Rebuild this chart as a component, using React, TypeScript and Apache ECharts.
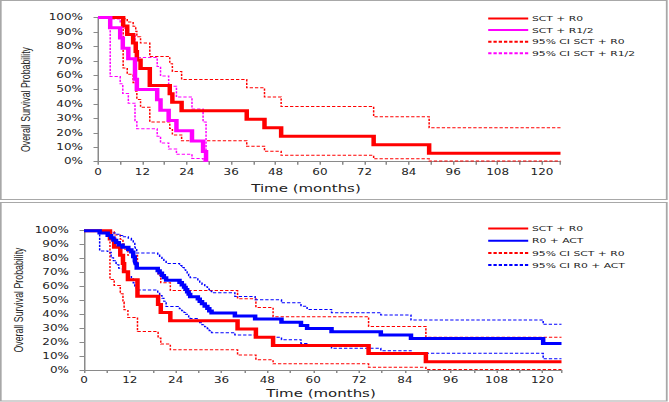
import React, { useEffect, useRef } from "react";
import * as echarts from "echarts";

// The reference picture is horizontally stretched (about 1.5x), so the chart is drawn
// at 669/1.5 px wide and stretched back with a CSS transform.
const K = 1.5;
const W = 669 / K;
const H = 402;

// ---- Top panel: SCT + R0 vs SCT + R1/2 (time in months, survival in %) ----
const sctR0: [number, number][] = [
  [0, 100], [6.8, 94.1], [7.9, 88.2], [9.5, 82.4], [10.2, 76.5], [10.5, 70.6], [11.5, 64.7],
  [14.0, 52.9], [19.4, 47.1], [20.1, 41.2], [22.6, 35.3], [40.2, 29.4], [45.0, 23.5],
  [49.5, 17.6], [74.5, 11.8], [89.5, 5.9], [125, 5.9],
];
const sctR0Upper: [number, number][] = [
  [0, 100], [6.8, 99.2], [7.9, 96.9], [9.5, 93.9], [10.2, 90.5], [10.5, 86.6], [11.5, 82.3],
  [14.0, 73.0], [19.4, 68.0], [20.1, 62.6], [22.6, 57.0], [40.2, 51.2], [45.0, 44.9],
  [49.5, 38.3], [74.5, 31.2], [89.5, 23.5], [125, 23.5],
];
const sctR0Lower: [number, number][] = [
  [0, 100], [6.8, 65.0], [7.9, 60.6], [9.5, 54.7], [10.2, 48.8], [10.5, 43.2], [11.5, 37.7],
  [14.0, 27.6], [19.4, 23.0], [20.1, 18.6], [22.6, 14.5], [40.2, 10.7], [45.0, 7.3],
  [49.5, 4.4], [74.5, 2.0], [89.5, 0.4], [125, 0.4],
];
const sctR12: [number, number][] = [
  [0, 100], [3.3, 92.9], [6.0, 85.7], [6.7, 78.6], [8.2, 71.4], [10.0, 57.1], [10.5, 50.0],
  [16.0, 42.9], [16.9, 35.7], [19.1, 28.6], [21.2, 21.4], [25.4, 14.3], [28.4, 7.1], [29.2, 0],
];
const sctR12Upper: [number, number][] = [
  [0, 100], [3.3, 99.0], [6.0, 96.2], [6.7, 92.5], [8.2, 88.2], [10.0, 78.0], [10.5, 72.2],
  [16.0, 66.0], [16.9, 59.4], [19.1, 52.4], [21.2, 44.8], [25.4, 36.6], [28.4, 27.5], [29.2, 0],
];
const sctR12Lower: [number, number][] = [
  [0, 100], [3.3, 59.1], [6.0, 54.0], [6.7, 47.3], [8.2, 40.6], [10.0, 28.4], [10.5, 22.9],
  [16.0, 17.7], [16.9, 13.0], [19.1, 8.8], [21.2, 5.2], [25.4, 2.3], [28.4, 0.5], [29.2, 0],
];

// ---- Bottom panel: R0 + ACT ----
const r0Act: [number, number][] = [
  [0, 100], [4.1, 98.3], [6.2, 96.6], [7.1, 94.9], [7.7, 93.2], [8.4, 91.5], [9.1, 89.8],
  [10.1, 88.1], [11.6, 86.4], [12.4, 84.7], [12.9, 81.3], [13.3, 78.0], [13.5, 76.3],
  [13.8, 73.0], [19.3, 71.3], [19.8, 69.6], [20.4, 67.9], [20.9, 66.2], [21.5, 64.5],
  [25.0, 62.8], [25.6, 61.1], [26.2, 59.4], [26.6, 57.7], [27.0, 56.0], [27.4, 54.3],
  [27.8, 52.6], [29.8, 50.9], [30.3, 49.2], [30.9, 47.5], [31.6, 45.8], [32.3, 44.1],
  [32.8, 42.4], [33.4, 40.9], [39.5, 38.8], [44.8, 36.6], [51.7, 34.3], [56.8, 32.0],
  [58.4, 29.8], [64.8, 27.5], [77.7, 25.1], [85.6, 22.7], [120.2, 19.1], [125, 19.1],
];
const r0ActUpper: [number, number][] = [
  [0, 100], [4.1, 100], [6.2, 99.6], [7.1, 99.0], [7.7, 98.3], [8.4, 97.5], [9.1, 96.6],
  [10.1, 95.6], [11.6, 94.5], [12.4, 93.2], [12.9, 91.0], [13.3, 88.6], [13.5, 87.3],
  [13.8, 84.0], [19.3, 82.5], [19.8, 81.0], [20.4, 79.5], [20.9, 78.0], [21.5, 76.5],
  [25.0, 75.0], [25.6, 73.5], [26.2, 72.0], [26.6, 70.5], [27.0, 69.0], [27.4, 67.6],
  [27.8, 66.2], [29.8, 64.6], [30.3, 63.0], [30.9, 61.4], [31.6, 59.8], [32.3, 58.2],
  [32.8, 56.8], [33.4, 55.5], [39.5, 52.8], [44.8, 50.4], [51.7, 48.2], [56.8, 45.8],
  [58.4, 43.5], [64.8, 41.1], [77.7, 39.5], [85.6, 35.9], [120.2, 32.8], [125, 32.8],
];
const r0ActLower: [number, number][] = [
  [0, 100], [4.1, 85.5], [6.2, 84.5], [7.1, 80.5], [7.7, 78.5], [8.4, 75.5], [9.1, 73.0],
  [10.1, 70.5], [11.6, 67.5], [12.4, 65.5], [12.9, 62.5], [13.3, 60.0], [13.5, 59.0],
  [13.8, 57.4], [19.3, 55.5], [19.8, 53.5], [20.4, 51.5], [20.9, 49.3], [21.5, 45.5],
  [25.0, 44.0], [25.6, 42.6], [26.2, 41.3], [26.6, 40.0], [27.0, 39.0], [27.4, 38.0],
  [27.8, 37.0], [29.8, 35.5], [30.3, 34.0], [30.9, 32.5], [31.6, 31.0], [32.3, 29.6],
  [32.8, 28.2], [33.4, 26.8], [39.5, 25.1], [44.8, 23.5], [51.7, 21.8], [56.8, 19.1],
  [58.4, 17.2], [64.8, 15.6], [77.7, 13.9], [85.6, 12.0], [120.2, 8.1], [125, 8.1],
];

const topLegend = ["SCT + R0", "SCT + R1/2", "95% CI SCT + R0", "95% CI SCT + R1/2"];
const bottomLegend = ["SCT + R0", "R0 + ACT", "95% CI SCT + R0", "95% CI R0 + ACT"];
const yTitle = "Overall Survival Probability";
const xTitle = "Time (months)";

const RED = "#ff0000";
const MAGENTA = "#ff00ff";
const BLUE = "#0000ff";
const DASH = [2.2, 1.3];

function series(name: string, data: [number, number][], color: string, dashed: boolean, idx: number) {
  return {
    name,
    type: "line",
    step: "end",
    data,
    xAxisIndex: idx,
    yAxisIndex: idx,
    symbol: "none",
    showSymbol: false,
    clip: false,
    silent: true,
    itemStyle: { color },
    lineStyle: { color, width: dashed ? 1 : 3, type: dashed ? DASH : "solid", cap: "butt", join: "miter" },
  };
}

function xAxis(idx: number) {
  return {
    gridIndex: idx,
    type: "value",
    min: 0,
    max: 125,
    interval: 6,
    axisLine: { show: true, lineStyle: { color: "#8a8a8a", width: 1 } },
    axisTick: { show: true, length: 3, lineStyle: { color: "#8a8a8a" } },
    axisLabel: {
      formatter: (v: number) => (v % 12 === 0 && v <= 120 ? String(v) : ""),
      fontFamily: "DejaVu Sans",
      fontSize: 8,
      color: "#222",
      margin: 6.5,
    },
    splitLine: { show: false },
  };
}

function yAxis(idx: number) {
  return {
    gridIndex: idx,
    type: "value",
    min: 0,
    max: 100,
    interval: 10,
    axisLine: { show: true, lineStyle: { color: "#8a8a8a", width: 1 } },
    axisTick: { show: true, length: 3, lineStyle: { color: "#8a8a8a" } },
    axisLabel: {
      formatter: "{value}%",
      fontFamily: "DejaVu Sans",
      fontSize: 8,
      color: "#222",
      margin: 10,
    },
    splitLine: { show: false },
  };
}

function legend(data: string[], top: number, gap: number) {
  return {
    orient: "vertical",
    left: 486.7 / K,
    top,
    padding: 0,
    itemWidth: 40 / K,
    itemHeight: 8,
    itemGap: gap,
    selectedMode: false,
    itemStyle: { opacity: 0 },
    data,
    textStyle: { fontFamily: "DejaVu Sans", fontSize: 7.2, color: "#222", padding: [0, 0, 0, -2.5] },
  };
}

function text(t: string, x: number, y: number, size: number, family: string, rot = 0) {
  return {
    type: "text",
    x,
    y,
    rotation: rot,
    silent: true,
    style: {
      text: t,
      fontSize: size,
      fontFamily: family,
      fill: "#222",
      align: "center",
      verticalAlign: "middle",
    },
  };
}

export default function App() {
  const ref = useRef<HTMLDivElement>(null);

  useEffect(() => {
    if (!ref.current) return;
    const chart = echarts.init(ref.current, undefined, { renderer: "svg" });
    chart.setOption({
      animation: false,
      backgroundColor: "#ffffff",
      grid: [
        { left: 98 / K, top: 17.5, width: (560.5 - 98) / K, height: 161.7 - 17.5 },
        { left: 84 / K, top: 230.7, width: (561.5 - 84) / K, height: 370 - 230.7 },
      ],
      xAxis: [xAxis(0), xAxis(1)],
      yAxis: [yAxis(0), yAxis(1)],
      legend: [legend(topLegend, 15, 4.6), legend(bottomLegend, 225, 5.2)],
      series: [
        series("95% CI SCT + R0", sctR0Upper, RED, true, 0),
        series("95% CI SCT + R0", sctR0Lower, RED, true, 0),
        series("95% CI SCT + R1/2", sctR12Upper, MAGENTA, true, 0),
        series("95% CI SCT + R1/2", sctR12Lower, MAGENTA, true, 0),
        series("SCT + R0", sctR0, RED, false, 0),
        series("SCT + R1/2", sctR12, MAGENTA, false, 0),
        series("95% CI SCT + R0", sctR0Upper, RED, true, 1),
        series("95% CI SCT + R0", sctR0Lower, RED, true, 1),
        series("95% CI R0 + ACT", r0ActUpper, BLUE, true, 1),
        series("95% CI R0 + ACT", r0ActLower, BLUE, true, 1),
        series("SCT + R0", sctR0, RED, false, 1),
        series("R0 + ACT", r0Act, BLUE, false, 1),
      ],
      graphic: [
        { type: "rect", silent: true, shape: { x: 0.5, y: 0.5, width: 444, height: 199 }, style: { fill: "none", stroke: "#a8a8a8", lineWidth: 1.2 } },
        { type: "rect", silent: true, shape: { x: 0.5, y: 202.5, width: 444, height: 198.5 }, style: { fill: "none", stroke: "#a8a8a8", lineWidth: 1.2 } },
        text(yTitle, 25 / K, 99.5, 8.8, "Liberation Sans", Math.PI / 2),
        text(yTitle, 18.3 / K, 300, 8.8, "Liberation Sans", Math.PI / 2),
        text(xTitle, 306 / K, 188, 10, "DejaVu Sans"),
        text(xTitle, 321 / K, 393, 10, "DejaVu Sans"),
      ],
    });
    return () => chart.dispose();
  }, []);

  return (
    <div
      style={{
        position: "fixed",
        left: 0,
        top: 0,
        width: 669,
        height: H,
        overflow: "hidden",
        background: "#fff",
      }}
    >
      <div
        ref={ref}
        style={{
          width: W,
          height: H,
          transform: `scaleX(${K})`,
          transformOrigin: "0 0",
        }}
      />
    </div>
  );
}
